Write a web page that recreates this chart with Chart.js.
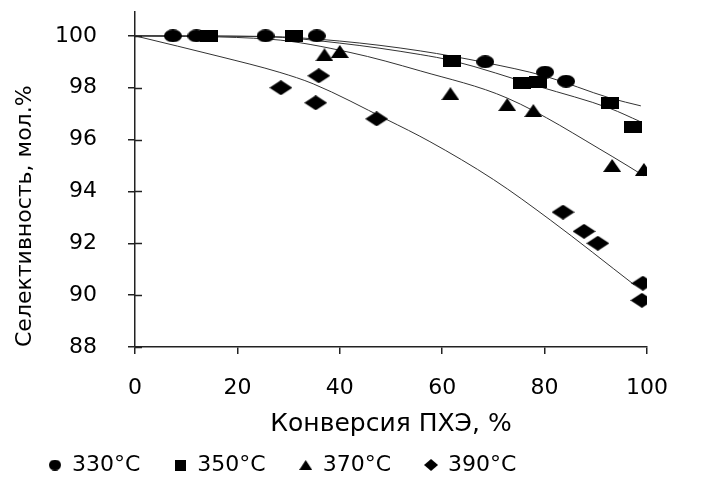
<!DOCTYPE html>
<html>
<head>
<meta charset="utf-8">
<script src="https://cdn.jsdelivr.net/npm/chart.js@4.4.0/dist/chart.umd.min.js"></script>
<style>
  html, body { margin: 0; padding: 0; background: #fff; }
  #wrap { width: 706px; height: 481px; }
</style>
</head>
<body>
<div id="wrap"><canvas id="chart"></canvas></div>
<script>
// measured points
const x330 = [7.4, 12, 25.5, 35.5, 68.4, 80.1, 84.2];
const y330 = [100, 100, 100, 100, 99.0, 98.6, 98.25];
const x350 = [14.4, 31, 62, 75.6, 78.8, 92.8, 97.3];
const y350 = [100, 100, 99.04, 98.2, 98.22, 97.4, 96.5];
const x370 = [37, 40, 61.6, 72.7, 77.8, 93.2, 99.4];
const y370 = [99.27, 99.4, 97.77, 97.35, 97.12, 95.0, 94.85];
const x390 = [28.5, 35.9, 35.3, 47.2, 83.6, 87.7, 90.4, 99.2, 99.0];
const y390 = [98.0, 98.46, 97.42, 96.8, 93.2, 92.46, 92.0, 90.46, 89.8];

// trend lines
const tx330 = [0, 25, 40, 55.7, 68.4, 80, 92.8, 98.8];
const ty330 = [100, 99.98, 99.8, 99.42, 98.97, 98.45, 97.6, 97.3];
const tx350 = [0, 25, 40, 55.7, 62, 78.8, 92.8, 98.6];
const ty350 = [100, 99.97, 99.72, 99.28, 99.04, 98.05, 97.2, 96.7];
const tx370 = [0, 26.4, 42, 55.7, 72.7, 93.2, 99.4];
const ty370 = [100, 99.87, 99.36, 98.65, 97.6, 95.35, 94.6];
const tx390 = [0, 16.6, 28.3, 34.8, 49.2, 57.6, 70, 81.1, 97.5];
const ty390 = [100, 99.2, 98.59, 98.15, 96.77, 95.92, 94.46, 92.9, 90.4];

const labels = ['330°C', '350°C', '370°C', '390°C'];
const yTicks = [88, 90, 92, 94, 96, 98, 100];
const xTicks = [0, 20, 40, 60, 80, 100];

const FONT = 'DejaVu Sans';

function marker(shape, w, h) {
  const c = document.createElement('canvas');
  c.width = w; c.height = h;
  const g = c.getContext('2d');
  g.fillStyle = '#000';
  g.beginPath();
  if (shape === 'circle') {
    g.ellipse(w / 2, h / 2, w / 2, h / 2, 0, 0, Math.PI * 2);
  } else if (shape === 'rect') {
    g.rect(0, 0, w, h);
  } else if (shape === 'triangle') {
    g.moveTo(w / 2, 0); g.lineTo(w, h); g.lineTo(0, h); g.closePath();
  } else {
    g.moveTo(w / 2, 0); g.lineTo(w, h / 2); g.lineTo(w / 2, h); g.lineTo(0, h / 2); g.closePath();
  }
  g.fill();
  return c;
}

const chartMarks = [marker('circle', 18, 13), marker('rect', 18, 12), marker('triangle', 18, 13), marker('diamond', 23, 15)];
const legendMarks = [marker('circle', 12, 11), marker('rect', 11, 11), marker('triangle', 13, 10), marker('diamond', 14, 12)];

const pts = (xs, ys) => xs.map((x, i) => ({ x: x, y: ys[i] }));

function scatterSet(i, xs, ys) {
  return {
    label: labels[i],
    data: pts(xs, ys),
    pointStyle: chartMarks[i],
    pointRadius: 8,
    showLine: false
  };
}
function trendSet(xs, ys) {
  return {
    label: 'trend',
    data: pts(xs, ys),
    showLine: true,
    borderColor: '#333',
    borderWidth: 1,
    pointRadius: 0,
    cubicInterpolationMode: 'monotone'
  };
}

// inner half of the y ticks (they cross the axis in the original)
const innerTicks = {
  id: 'innerTicks',
  afterDraw(chart) {
    const ys = chart.scales.y, ctx = chart.ctx;
    ctx.save();
    ctx.strokeStyle = '#222';
    ctx.lineWidth = 1.5;
    yTicks.forEach(v => {
      const p = Math.round(ys.getPixelForValue(v)) + 0.5;
      ctx.beginPath();
      ctx.moveTo(ys.right, p);
      ctx.lineTo(ys.right + 7, p);
      ctx.stroke();
    });
    ctx.restore();
  }
};

new Chart(document.getElementById('chart'), {
  type: 'scatter',
  data: {
    datasets: [
      scatterSet(0, x330, y330),
      scatterSet(1, x350, y350),
      scatterSet(2, x370, y370),
      scatterSet(3, x390, y390),
      trendSet(tx330, ty330),
      trendSet(tx350, ty350),
      trendSet(tx370, ty370),
      trendSet(tx390, ty390)
    ]
  },
  options: {
    responsive: true,
    maintainAspectRatio: false,
    animation: false,
    layout: { padding: { left: 15, right: 59, top: 12, bottom: -5 } },
    plugins: {
      tooltip: { enabled: false },
      legend: {
        position: 'bottom',
        align: 'start',
        labels: {
          usePointStyle: true,
          boxWidth: 12,
          padding: 34,
          color: '#000',
          font: { family: FONT, size: 22 },
          generateLabels(chart) {
            const items = Chart.defaults.plugins.legend.labels.generateLabels(chart);
            return items.filter(it => it.text !== 'trend').map(it => {
              it.pointStyle = legendMarks[it.datasetIndex];
              return it;
            });
          }
        }
      }
    },
    scales: {
      x: {
        min: 0,
        max: 100,
        afterBuildTicks: s => { s.ticks = xTicks.map(v => ({ value: v })); },
        afterFit: s => { s.height = 73; },
        border: { color: '#222', width: 1.5 },
        grid: { drawOnChartArea: false, tickLength: 7, color: '#222', lineWidth: 1.5 },
        ticks: { color: '#000', padding: 21, maxRotation: 0, font: { family: FONT, size: 22 } },
        title: {
          display: true,
          text: 'Конверсия ПХЭ, %',
          color: '#000',
          padding: { top: 0, bottom: -19 },
          font: { family: FONT, size: 25 }
        }
      },
      y: {
        min: 88,
        max: 100.92,
        afterBuildTicks: s => { s.ticks = yTicks.map(v => ({ value: v })); },
        afterFit: s => { s.width = 120; s.paddingTop = 0; s.paddingBottom = 0; },
        border: { color: '#222', width: 1.5 },
        grid: { drawOnChartArea: false, tickLength: 7, color: '#222', lineWidth: 1.5 },
        ticks: { color: '#000', padding: 31, font: { family: FONT, size: 22 } },
        title: {
          display: true,
          text: 'Селективность, мол.%',
          color: '#000',
          align: 'start',
          padding: { top: -3, bottom: 0 },
          font: { family: FONT, size: 22 }
        }
      }
    }
  },
  plugins: [innerTicks]
});
</script>
</body>
</html>
